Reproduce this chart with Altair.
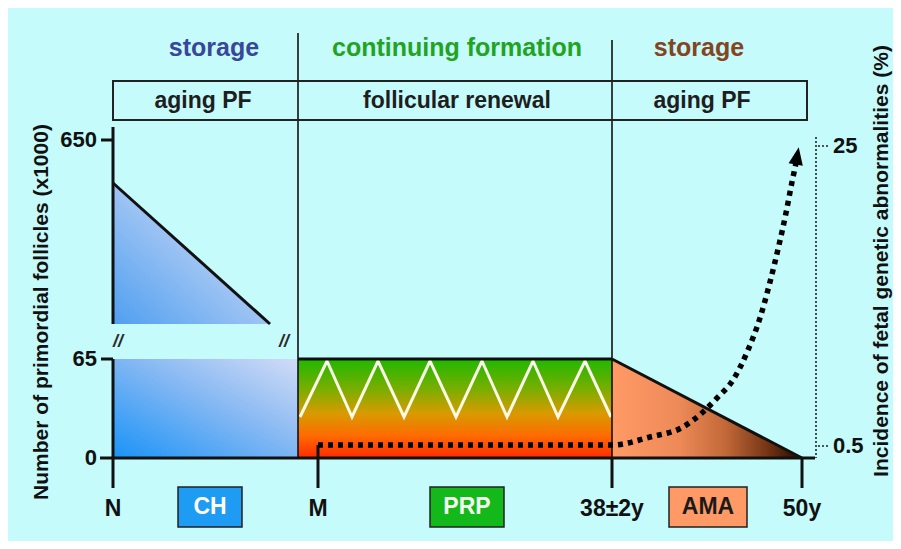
import altair as alt
import pandas as pd

# ---------------- schematic frame (diagram units) ----------------
W, H = 885, 533
FONT = "Liberation Sans"
BG = "#c6fbfb"

# ---------------- data ----------------
# age axis: labels and their schematic positions
age_labels = ["N", "M", "38±2y", "50y"]
age_pos = [113, 318, 612, 802]

# period dividers / header
period_titles = ["storage", "continuing formation", "storage"]
period_title_x = [214, 457, 699]
period_title_colors = ["#38479a", "#22a322", "#83451f"]
header_labels = ["aging PF", "follicular renewal", "aging PF"]
header_x = [203, 457, 702]
divider_x = [298, 612]
divider_top = [33, 40]

# follicle axis (x1000) with a break between 65 and 650
follicle_ticks = ["650", "65", "0"]
follicle_tick_pos = [140, 359, 458]

# primordial follicle pool shapes
newborn_drop_x = [113, 270]
newborn_drop_y = [183, 324]
renewal_zigzag_x = [300, 327, 352, 378, 404, 430, 456, 482, 507, 533, 558, 585, 611]
renewal_zigzag_y = [417, 361, 417, 361, 417, 361, 417, 361, 417, 361, 417, 361, 417]
ama_decline_x = [612, 802]
ama_decline_y = [359, 458]

# incidence of fetal genetic abnormalities (%) curve
risk_x = [318, 612, 650, 683, 703, 717, 733, 748, 760, 770, 779, 786, 792, 796]
risk_y = [445, 445, 437, 427, 412, 398, 380, 350, 318, 282, 245, 213, 182, 163]
risk_ticks = ["25", "0.5"]
risk_tick_pos = [146, 446]

# phase boxes under the axis
phase_labels = ["CH", "PRP", "AMA"]
phase_x0 = [178, 430, 669]
phase_x1 = [242, 504, 747]
phase_fill = ["#1e9bf2", "#13b81a", "#ff9a66"]
phase_text = ["#ffffff", "#f4fff0", "#1a1a1a"]

# ---------------- scales ----------------
xs = alt.Scale(domain=[8, 8 + W], nice=False, zero=False)
ys = alt.Scale(domain=[8, 8 + H], nice=False, zero=False, reverse=True)


def X(f="x"):
    return alt.X(f"{f}:Q", scale=xs, axis=None)


def Y(f="y"):
    return alt.Y(f"{f}:Q", scale=ys, axis=None)


def segs(rows, **kw):
    df = pd.DataFrame(rows, columns=["x", "y", "x2", "y2"])
    return alt.Chart(df).mark_rule(**kw).encode(
        x=X(), y=Y(), x2=alt.X2("x2:Q"), y2=alt.Y2("y2:Q"))


def texts(rows, **kw):
    df = pd.DataFrame(rows, columns=["x", "y", "text", "color"])
    base = dict(font=FONT, fontWeight="bold", baseline="middle")
    base.update(kw)
    return alt.Chart(df).mark_text(**base).encode(
        x=X(), y=Y(), text="text:N", color=alt.Color("color:N", scale=None))


def grad(stops, x1, y1, x2, y2):
    return alt.Gradient(gradient="linear",
                        stops=[alt.GradientStop(color=c, offset=o) for o, c in stops],
                        x1=x1, y1=y1, x2=x2, y2=y2)


y0, y65 = follicle_tick_pos[2], follicle_tick_pos[1]

# ---------------- shapes ----------------
blue_rect = alt.Chart(pd.DataFrame({"x": [age_pos[0]], "x2": [divider_x[0]],
                                    "y": [y65], "y2": [y0]})).mark_rect(
    fill=grad([(0, "#1993f7"), (0.55, "#86b8f3"), (1, "#d2dcf6")], 0, 1, 1, 0)
).encode(x=X(), x2=alt.X2("x2:Q"), y=Y(), y2=alt.Y2("y2:Q"))

blue_tri = alt.Chart(pd.DataFrame({"x": newborn_drop_x, "y": newborn_drop_y,
                                   "y2": [newborn_drop_y[1]] * 2})).mark_area(
    color=grad([(0, "#4f9ff0"), (0.6, "#aecbf4"), (1, "#d8e2f8")], 0, 1, 1, 0)
).encode(x=X(), y=Y(), y2=alt.Y2("y2:Q"))

green_rect = alt.Chart(pd.DataFrame({"x": [divider_x[0]], "x2": [divider_x[1]],
                                     "y": [y65], "y2": [y0]})).mark_rect(
    fill=grad([(0, "#1fb800"), (0.3, "#78ae00"), (0.55, "#d99a00"),
               (0.78, "#ff6a00"), (1, "#ff2a00")], 0, 0, 0, 1)
).encode(x=X(), x2=alt.X2("x2:Q"), y=Y(), y2=alt.Y2("y2:Q"))

brown_tri = alt.Chart(pd.DataFrame({"x": ama_decline_x, "y": ama_decline_y,
                                    "y2": [y0, y0]})).mark_area(
    color=grad([(0, "#ff9a66"), (0.35, "#ee8a58"), (0.6, "#c26838"),
                (0.82, "#743414"), (1, "#1e0800")], 0, 0, 1, 0)
).encode(x=X(), y=Y(), y2=alt.Y2("y2:Q"))

zigzag = alt.Chart(pd.DataFrame({"x": renewal_zigzag_x, "y": renewal_zigzag_y,
                                 "o": list(range(len(renewal_zigzag_x)))})).mark_line(
    color="#fbfbe8", strokeWidth=3, strokeJoin="miter"
).encode(x=X(), y=Y(), order="o:Q")

# ---------------- lines ----------------
thick = segs([
    [newborn_drop_x[0], newborn_drop_y[0], newborn_drop_x[1], newborn_drop_y[1]],
    [divider_x[0], y65, divider_x[1], y65],
    [ama_decline_x[0], ama_decline_y[0], ama_decline_x[1], ama_decline_y[1]],
    [100, y0, 815, y0],
    [age_pos[0], 127, age_pos[0], 324],
    [age_pos[0], y65, age_pos[0], 488],
    [101, follicle_tick_pos[0], age_pos[0], follicle_tick_pos[0]],
    [101, y65, age_pos[0], y65],
    [age_pos[1], risk_y[0], age_pos[1], 488],
    [age_pos[2], y0, age_pos[2], 488],
    [age_pos[3], y0, age_pos[3], 488],
], color="#111111", strokeWidth=3)

thin = segs([
    [divider_x[0], divider_top[0], divider_x[0], y0],
    [divider_x[1], divider_top[1], divider_x[1], y0],
], color="#111111", strokeWidth=1.6)

header_box = alt.Chart(pd.DataFrame({"x": [age_pos[0]], "x2": [807],
                                     "y": [81], "y2": [120]})).mark_rect(
    fillOpacity=0, stroke="#222222", strokeWidth=2
).encode(x=X(), x2=alt.X2("x2:Q"), y=Y(), y2=alt.Y2("y2:Q"))

right_axis = segs([
    [816, 137, 816, y0],
    [818, risk_tick_pos[0], 830, risk_tick_pos[0]],
    [818, risk_tick_pos[1], 830, risk_tick_pos[1]],
], color="#222222", strokeWidth=1.6, strokeDash=[2, 2])

risk_curve = alt.Chart(pd.DataFrame({"x": risk_x, "y": risk_y,
                                     "o": list(range(len(risk_x)))})).mark_line(
    color="#000000", strokeWidth=5.5, strokeDash=[5, 5], strokeCap="butt",
    interpolate="monotone"
).encode(x=X(), y=Y(), order="o:Q")

arrow = alt.Chart(pd.DataFrame({"x": [797], "y": [157]})).mark_point(
    shape="M0,-1L0.72,0.75L-0.72,0.75Z", filled=True, color="#000000",
    size=400, angle=10, opacity=1
).encode(x=X(), y=Y())

# ---------------- phase boxes ----------------
boxes = alt.Chart(pd.DataFrame({"x": phase_x0, "x2": phase_x1,
                                "y": [487] * 3, "y2": [527] * 3,
                                "fill": phase_fill})).mark_rect(
    stroke="#222222", strokeWidth=1.5
).encode(x=X(), x2=alt.X2("x2:Q"), y=Y(), y2=alt.Y2("y2:Q"),
         fill=alt.Fill("fill:N", scale=None))

# ---------------- texts ----------------
t_titles = texts([[x, 48, t, c] for x, t, c in
                  zip(period_title_x, period_titles, period_title_colors)], fontSize=25)
t_header = texts([[x, 101, t, "#1e1e1e"] for x, t in zip(header_x, header_labels)],
                 fontSize=23)
t_yticks = texts([[97, p, t, "#111111"] for p, t in zip(follicle_tick_pos, follicle_ticks)],
                 fontSize=22, align="right")
t_ages = texts([[p, 509, t, "#111111"] for p, t in zip(age_pos, age_labels)], fontSize=23)
t_phase = texts([[(a + b) / 2, 507, t, c] for a, b, t, c in
                 zip(phase_x0, phase_x1, phase_labels, phase_text)], fontSize=23)
t_risk = texts([[833, p, t, "#111111"] for p, t in zip(risk_tick_pos, risk_ticks)],
               fontSize=22, align="left")
t_break = texts([[118, 342, "//", "#2a2a2a"], [284, 342, "//", "#2a2a2a"]],
                fontSize=18, fontStyle="italic")
t_ytitle = texts([[42, 312, "Number of primordial follicles (x1000)", "#111111"]],
                 fontSize=21, angle=270)
t_y2title = texts([[882, 261, "Incidence of fetal genetic abnormalities (%)", "#111111"]],
                  fontSize=21, angle=270)

chart = alt.layer(
    blue_rect, blue_tri, green_rect, brown_tri, zigzag,
    thin, thick, header_box, right_axis, risk_curve, arrow, boxes,
    t_titles, t_header, t_yticks, t_ages, t_phase, t_risk, t_break,
    t_ytitle, t_y2title,
).properties(
    width=W, height=H, background=BG, padding=0,
    autosize=alt.AutoSizeParams(type="none"),
).configure_view(strokeWidth=0)

chart.save("out.html", embed_options={"renderer": "svg", "actions": False})
